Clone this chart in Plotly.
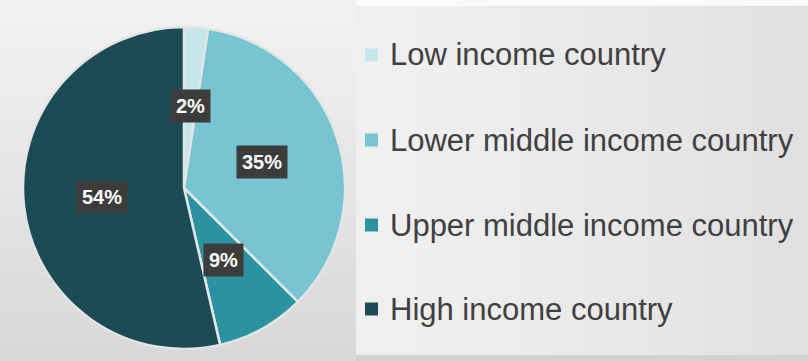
import math
import plotly.graph_objects as go

# ---- data ----
categories = ["Low income country", "Lower middle income country",
              "Upper middle income country", "High income country"]
shares = [2.4, 35.1, 8.9, 53.6]
colors = ["#c6e6ec", "#76c5d0", "#2b929f", "#1c4b55"]

W, H = 808, 361
CX, CY, R = 184, 188, 161


def px(x):
    return x / W


def py(y):
    return (H - y) / H


def mix(c1, c2, t):
    a = [int(c1[i:i + 2], 16) for i in (1, 3, 5)]
    b = [int(c2[i:i + 2], 16) for i in (1, 3, 5)]
    return "#" + "".join(f"{round(a[k] + (b[k] - a[k]) * t):02x}" for k in range(3))


shapes = []
# left panel vertical gradient
N = 30
for i in range(N):
    y0 = i * H / N
    y1 = (i + 1) * H / N + 1
    shapes.append(dict(type="rect", xref="paper", yref="paper", layer="below",
                       x0=0, x1=px(356), y0=py(y1), y1=py(y0),
                       fillcolor=mix("#f2f2f2", "#d8d8d8", i / (N - 1)),
                       line=dict(width=0)))
# right panel horizontal gradient
for i in range(N):
    x0 = 356 + i * (W - 356) / N
    x1 = 356 + (i + 1) * (W - 356) / N + 1
    shapes.append(dict(type="rect", xref="paper", yref="paper", layer="below",
                       x0=px(x0), x1=px(x1), y0=py(355), y1=py(6),
                       fillcolor=mix("#efefef", "#e0e0e0", (i / (N - 1)) ** 1.5),
                       line=dict(width=0)))
shapes.append(dict(type="rect", xref="paper", yref="paper", layer="below",
                   x0=px(356), x1=1, y0=py(6), y1=1,
                   fillcolor="#fbfbfb", line=dict(width=0)))
shapes.append(dict(type="rect", xref="paper", yref="paper", layer="below",
                   x0=px(356), x1=1, y0=0, y1=py(355),
                   fillcolor="#d2d2d2", line=dict(width=0)))

fig = go.Figure()
fig.add_trace(go.Pie(
    labels=categories, values=shares, sort=False, direction="clockwise",
    rotation=0,
    marker=dict(colors=colors, line=dict(color="#e2e5e7", width=2.5)),
    textinfo="none", hoverinfo="label+percent", showlegend=False,
    domain=dict(x=[px(CX - R), px(CX + R)], y=[py(CY + R), py(CY - R)]),
))

annotations = []
# data labels placed at half radius along each slice's mid-angle
total = sum(shares)
cum = 0
for v in shares:
    mid = (cum + v / 2) / total * 2 * math.pi
    cum += v
    lx = CX + 0.51 * R * math.sin(mid)
    ly = CY - 0.51 * R * math.cos(mid)
    annotations.append(dict(
        x=px(lx), y=py(ly), xref="paper", yref="paper", showarrow=False,
        text=f"<b>{round(v / total * 100)}%</b>",
        font=dict(family="Liberation Sans", size=20, color="white"),
        bgcolor="#3c3c3c", borderpad=5, xanchor="center", yanchor="middle"))

# legend
leg_y = [55, 140, 225, 309]
for name, col, yy in zip(categories, colors, leg_y):
    shapes.append(dict(type="rect", xref="paper", yref="paper",
                       x0=px(365), x1=px(378), y0=py(yy + 6.5), y1=py(yy - 6.5),
                       fillcolor=col, line=dict(width=0)))
    annotations.append(dict(
        x=px(388), y=py(yy), xref="paper", yref="paper", showarrow=False,
        text=name, xanchor="left", yanchor="middle",
        font=dict(family="Liberation Sans", size=31, color="#404040")))

fig.update_layout(
    width=W, height=H, margin=dict(l=0, r=0, t=0, b=0),
    paper_bgcolor="#e6e6e6", plot_bgcolor="#e6e6e6",
    shapes=shapes, annotations=annotations, showlegend=False,
)
fig.write_html("out.html")
